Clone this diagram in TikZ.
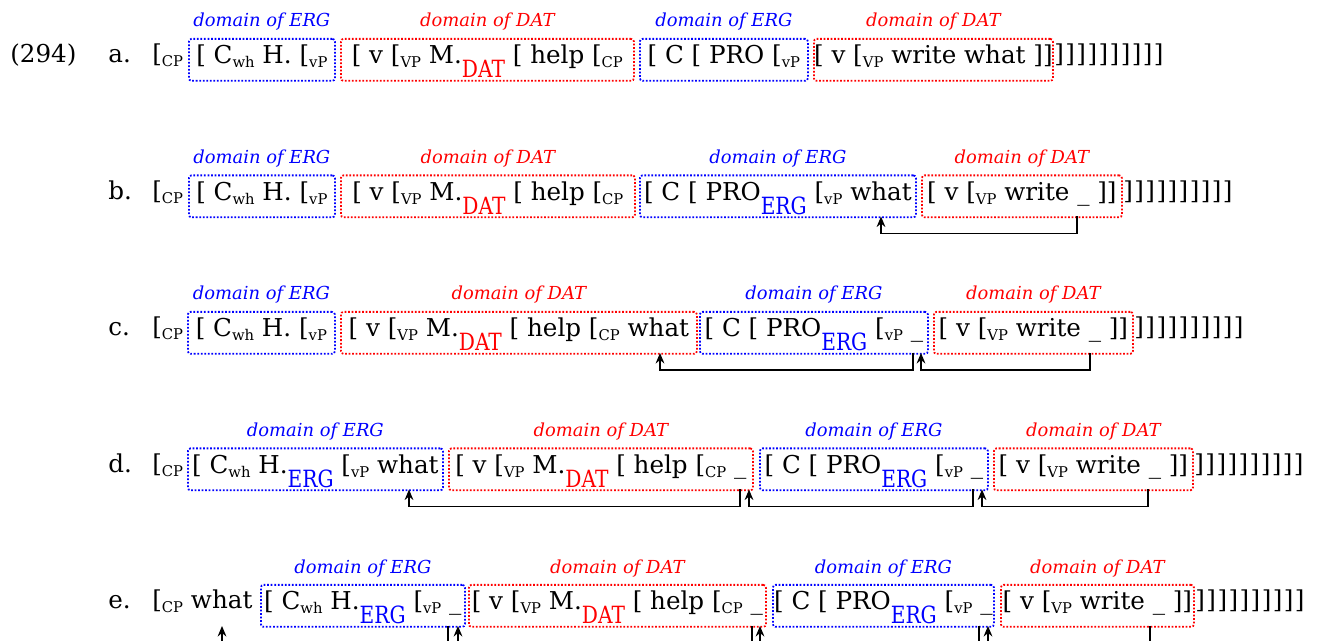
\documentclass[tikz,border=0pt]{standalone}
\usepackage{fontspec}
\usepackage{graphicx}
\setmainfont{DejaVu Serif}
\usetikzlibrary{arrows.meta}

% small category labels and the big case markers
\newcommand{\cat}[1]{\raisebox{-0.3ex}{\fontsize{8.4}{9}\selectfont #1}}
\newcommand{\casesub}[2]{\raisebox{-7.8pt}{\scalebox{0.85}[1]{\fontsize{13.5}{14}\selectfont\color{#1}#2}}}
\newcommand{\datsub}{\casesub{red}{DAT}}
\newcommand{\ergsub}{\casesub{blue}{ERG}}
% the closing brackets after the last box
\newcommand{\closeall}{{\addfontfeature{LetterSpace=6}]]]]]]]]]]}}

\tikzset{
	dom/.style={anchor=north west, dash pattern=on 1pt off 1pt, line width=1pt, rounded corners=1.5pt,
		inner sep=0pt, minimum height=0.84cm, text height=0.42cm, text depth=0.26cm},
	wd/.style={minimum width=#1*0.02cm},
	ergbox/.style={dom, draw=blue},
	datbox/.style={dom, draw=red},
	domlabel/.style={anchor=base, inner sep=0pt, font=\fontsize{10.2}{12}\selectfont\itshape},
	ergl/.style={domlabel, text=blue},
	datl/.style={domlabel, text=red},
	word/.style={anchor=base west, inner sep=0pt},
	mv/.style={-{Stealth[length=6pt,width=5pt,inset=2pt]}, line width=0.7pt},
}

\begin{document}
\begin{tikzpicture}[x=0.02cm, y=-0.02cm, font=\fontsize{14}{16}\selectfont]
	\useasboundingbox (0,0) rectangle (1319,641);
	\clip (0,0) rectangle (1319,641);

	% (a)
	\node[word] (ex) at (10,63) {(294)};
	\node[word] (a0) at (108,63) {a.};
	\node[word] (acp) at (152,63) {[\cat{CP}};
	\node[ergbox, wd=146] (a1) at (188,38) {[ C\cat{wh} H. [\cat{vP}};
	\node[datbox, wd=293] (a2) at (340,38) {[ v [\cat{VP} M.\datsub{} [ help [\cat{CP}};
	\node[ergbox, wd=168] (a3) at (639,38) {[ C [ PRO [\cat{vP}};
	\node[datbox, wd=239] (a4) at (813,38) {[ v [\cat{VP} write what ]]};
	\node[word] (ae) at (1054,63) {\closeall};
	\node[ergl] (a1d) at ([yshift=0.22cm]a1.north) {domain of ERG};
	\node[datl] (a2d) at ([yshift=0.22cm]a2.north) {domain of DAT};
	\node[ergl] (a3d) at ([yshift=0.22cm]a3.north) {domain of ERG};
	\node[datl] (a4d) at ([yshift=0.22cm]a4.north) {domain of DAT};

	% (b)
	\begin{scope}[shift={(0,136.5)}]
		\node[word] (b0) at (108,63) {b.};
		\node[word] (bcp) at (152,63) {[\cat{CP}};
		\node[ergbox, wd=146] (b1) at (188,38) {[ C\cat{wh} H. [\cat{vP}};
		\node[datbox, wd=294] (b2) at (340,38) {[ v [\cat{VP} M.\datsub{} [ help [\cat{CP}};
		\node[ergbox, wd=276] (b3) at (639,38) {[ C [ PRO\ergsub{} [\cat{vP} what};
		\node[datbox, wd=200] (b4) at (921,38) {[ v [\cat{VP} write \_ ]]};
		\node[word] (be) at (1123,63) {\closeall};
		\node[ergl] (b1d) at ([yshift=0.22cm]b1.north) {domain of ERG};
		\node[datl] (b2d) at ([yshift=0.22cm]b2.north) {domain of DAT};
		\node[ergl] (b3d) at ([yshift=0.22cm]b3.north) {domain of ERG};
		\node[datl] (b4d) at ([yshift=0.22cm]b4.north) {domain of DAT};
		\coordinate (bt1) at (1077,80);
		\coordinate (bw) at (881,80);
		\draw[mv] (bt1) -- ++(0,17) -| (bw);
	\end{scope}

	% (c)
	\begin{scope}[shift={(0,273)}]
		\node[word] (c0) at (108,63) {c.};
		\node[word] (ccp) at (152,63) {[\cat{CP}};
		\node[ergbox, wd=147] (c1) at (187,38) {[ C\cat{wh} H. [\cat{vP}};
		\node[datbox, wd=356] (c2) at (340,38) {[ v [\cat{VP} M.\datsub{} [ help [\cat{CP} what};
		\node[ergbox, wd=228] (c3) at (699,38) {[ C [ PRO\ergsub{} [\cat{vP} \_};
		\node[datbox, wd=199] (c4) at (933,38) {[ v [\cat{VP} write \_ ]]};
		\node[word] (ce) at (1134,63) {\closeall};
		\node[ergl] (c1d) at ([yshift=0.22cm]c1.north) {domain of ERG};
		\node[datl] (c2d) at ([yshift=0.22cm]c2.north) {domain of DAT};
		\node[ergl] (c3d) at ([yshift=0.22cm]c3.north) {domain of ERG};
		\node[datl] (c4d) at ([yshift=0.22cm]c4.north) {domain of DAT};
		\coordinate (ct1) at (1090,80);
		\coordinate (ct2) at (921,80);
		\coordinate (ct3) at (913,80);
		\coordinate (cw) at (660,80);
		\draw[mv] (ct1) -- ++(0,17) -| (ct2);
		\draw[mv] (ct3) -- ++(0,17) -| (cw);
	\end{scope}

	% (d)
	\begin{scope}[shift={(0,409.5)}]
		\node[word] (d0) at (108,63) {d.};
		\node[word] (dcp) at (152,63) {[\cat{CP}};
		\node[ergbox, wd=255] (d1) at (187,38) {[ C\cat{wh} H.\ergsub{} [\cat{vP} what};
		\node[datbox, wd=304] (d2) at (448,38) {[ v [\cat{VP} M.\datsub{} [ help [\cat{CP} \_};
		\node[ergbox, wd=228] (d3) at (759,38) {[ C [ PRO\ergsub{} [\cat{vP} \_};
		\node[datbox, wd=199] (d4) at (993,38) {[ v [\cat{VP} write \_ ]]};
		\node[word] (de) at (1194,63) {\closeall};
		\node[ergl] (d1d) at ([yshift=0.22cm]d1.north) {domain of ERG};
		\node[datl] (d2d) at ([yshift=0.22cm]d2.north) {domain of DAT};
		\node[ergl] (d3d) at ([yshift=0.22cm]d3.north) {domain of ERG};
		\node[datl] (d4d) at ([yshift=0.22cm]d4.north) {domain of DAT};
		\coordinate (dt1) at (1148,80);
		\coordinate (dt2) at (982,80);
		\coordinate (dt3) at (973,80);
		\coordinate (dt4) at (749,80);
		\coordinate (dt5) at (740,80);
		\coordinate (dw) at (409,80);
		\draw[mv] (dt1) -- ++(0,17) -| (dt2);
		\draw[mv] (dt3) -- ++(0,17) -| (dt4);
		\draw[mv] (dt5) -- ++(0,17) -| (dw);
	\end{scope}

	% (e)
	\begin{scope}[shift={(0,546)}]
		\node[word] (e0) at (108,63) {e.};
		\node[word] (ecp) at (152,63) {[\cat{CP} what};
		\node[ergbox, wd=204] (e1) at (260,38) {[ C\cat{wh} H.\ergsub{} [\cat{vP} \_};
		\node[datbox, wd=297] (e2) at (468,38) {[ v [\cat{VP} M.\datsub{} [ help [\cat{CP} \_};
		\node[ergbox, wd=221] (e3) at (772,38) {[ C [ PRO\ergsub{} [\cat{vP} \_};
		\node[datbox, wd=193] (e4) at (1000,38) {[ v [\cat{VP} write \_ ]]};
		\node[word] (ee) at (1195,63) {\closeall};
		\node[ergl] (e1d) at ([yshift=0.22cm]e1.north) {domain of ERG};
		\node[datl] (e2d) at ([yshift=0.22cm]e2.north) {domain of DAT};
		\node[ergl] (e3d) at ([yshift=0.22cm]e3.north) {domain of ERG};
		\node[datl] (e4d) at ([yshift=0.22cm]e4.north) {domain of DAT};
		\coordinate (et1) at (1150,80);
		\coordinate (et2) at (988,80);
		\coordinate (et3) at (979,80);
		\coordinate (et4) at (760,80);
		\coordinate (et5) at (752,80);
		\coordinate (et6) at (458,80);
		\coordinate (et7) at (448,80);
		\coordinate (ew) at (222,80);
		\draw[mv] (et1) -- ++(0,17) -| (et2);
		\draw[mv] (et3) -- ++(0,17) -| (et4);
		\draw[mv] (et5) -- ++(0,17) -| (et6);
		\draw[mv] (et7) -- ++(0,17) -| (ew);
	\end{scope}
\end{tikzpicture}
\end{document}
